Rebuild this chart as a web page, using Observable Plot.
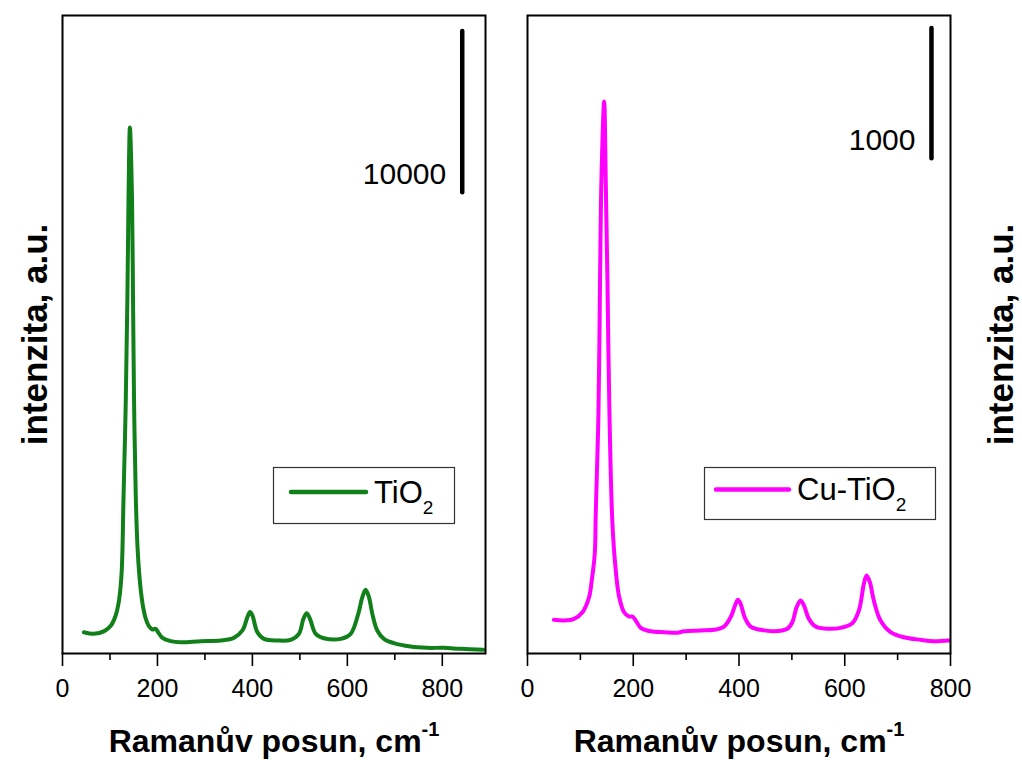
<!DOCTYPE html>
<html>
<head>
<meta charset="utf-8">
<script src="https://cdn.jsdelivr.net/npm/d3@7"></script>
<script src="https://cdn.jsdelivr.net/npm/@observablehq/plot@0.6"></script>
<style>
  body { margin: 0; background: #fff; }
  #fig { position: relative; width: 1022px; height: 760px; font-family: "Liberation Sans", Arial, sans-serif; }
  #fig > svg { position: absolute; top: 0; }
</style>
</head>
<body>
<div id="fig"></div>
<script>
// Raman spectra of TiO2 and Cu-doped TiO2 (anatase bands at ~144, 197, 399, 515, 639 cm-1)
const xTitle = "Ramanův posun, cm";
const xTitleSup = "-1";
const yTitle = "intenzita, a.u.";
const majorTicks = [0, 200, 400, 600, 800];
const minorTicks = [100, 300, 500, 700];

const tio2Label = "TiO";
const cuTio2Label = "Cu-TiO";
const labelSub = "2";

const tio2Shift = [45, 66, 88, 102, 112, 119, 124.5, 128.4, 133.3, 136.6, 139, 142, 146.5, 148.6, 150.7, 154.3, 158, 161.5, 165, 170, 176, 182, 189.5, 196.4, 201.3, 210.5, 228, 249, 291, 333, 361, 379, 389.5, 395, 400, 410.5, 424.5, 452.6, 480.6, 498, 507.4, 514.3, 521.3, 533.3, 550.7, 586, 607, 623, 631.6, 638.5, 645.5, 652.6, 663, 677, 698, 733, 768, 803, 838.5, 886];
const tio2Counts = [1320, 1220, 1390, 1740, 2360, 3290, 5000, 9500, 15700, 21900, 28100, 32650, 28100, 21900, 15700, 9800, 6600, 5000, 3900, 2850, 2100, 1700, 1490, 1530, 1320, 970, 765, 700, 765, 810, 970, 1430, 2260, 2570, 2360, 1320, 910, 810, 850, 1220, 2150, 2500, 2150, 1220, 950, 910, 1220, 2460, 3500, 3950, 3500, 2460, 1430, 910, 640, 430, 350, 350, 290, 230];

const cuShift = [50, 69, 88, 104, 116.4, 121.5, 127.2, 129.1, 134.2, 137.2, 139.8, 145, 148, 151.2, 155, 160.6, 166.9, 173.1, 182.6, 192, 198.4, 204.7, 214.1, 233, 258.2, 283.5, 296, 327.5, 352.7, 371.6, 384.2, 393.7, 398, 403.1, 410.7, 422, 441, 466, 491.4, 500.8, 509, 516.5, 522.8, 532.2, 544.9, 567, 592.1, 614.2, 626.7, 636.2, 641.3, 647.5, 655, 667.7, 686.6, 711.8, 743.3, 768.5, 796.8];
const cuCounts = [259, 253, 266, 317, 432, 561, 766, 1075, 1843, 2865, 3633, 4240, 3633, 2865, 1843, 1000, 640, 440, 317, 284, 284, 253, 197, 171, 164, 160, 171, 177, 182, 207, 279, 382, 412, 382, 279, 207, 182, 171, 190, 240, 356, 407, 369, 266, 207, 190, 197, 233, 330, 535, 599, 548, 407, 253, 164, 125, 105, 94, 100];

// intensity scale bars: position along the shift axis, start level, length in counts
const barTio2 = {x: 842, base: 28600, value: 10000};
const barCu = {x: 764, base: 3800, value: 1000};

const green = "#12801a";
const magenta = "#ff00ff";
const font = "'Liberation Sans', Arial, sans-serif";

const tio2 = tio2Shift.map((x, i) => ({x, y: tio2Counts[i]}));
const cu = cuShift.map((x, i) => ({x, y: cuCounts[i]}));

function panel({data, color, xMax, yMax, bar, width, marginLeft, marginRight, yTitleAnchor, yTitleDx}) {
  return Plot.plot({
    width, height: 760,
    marginLeft, marginRight, marginTop: 15, marginBottom: 107,
    x: {domain: [0, xMax]},
    y: {domain: [0, yMax], axis: null},
    style: {fontFamily: font, background: "white", color: "black", overflow: "visible"},
    marks: [
      Plot.axisX({ticks: majorTicks, tickSize: 13, tickPadding: 13, fontSize: 25, strokeWidth: 1.6, label: null}),
      Plot.axisX({ticks: minorTicks, tickSize: 7, tickFormat: () => "", strokeWidth: 1.6, label: null}),
      Plot.line(data, {x: "x", y: "y", stroke: color, strokeWidth: 4, curve: "catmull-rom"}),
      Plot.ruleX([bar], {x: "x", y1: "base", y2: d => d.base + d.value, strokeWidth: 4.5, strokeLinecap: "round"}),
      Plot.text([bar], {x: "x", y: "base", text: d => String(d.value), textAnchor: "end", lineAnchor: "bottom", dx: -16, dy: -9, fontSize: 30}),
      Plot.text([xTitle], {text: d => d, frameAnchor: "bottom", textAnchor: "middle", dy: 98, lineAnchor: "bottom", fontSize: 32, fontWeight: "bold"}),
      Plot.text([yTitle], {text: d => d, frameAnchor: yTitleAnchor, textAnchor: "middle", dx: yTitleDx, rotate: -90, lineAnchor: "bottom", fontSize: 35, fontWeight: "bold"}),
      Plot.frame({strokeWidth: 2})
    ]
  });
}

const left = panel({data: tio2, color: green, xMax: 891, yMax: 39600, bar: barTio2, width: 506, marginLeft: 62, marginRight: 21, yTitleAnchor: "left", yTitleDx: -16});
const right = panel({data: cu, color: magenta, xMax: 800, yMax: 4900, bar: barCu, width: 516, marginLeft: 21, marginRight: 72, yTitleAnchor: "right", yTitleDx: 62});

const fig = document.getElementById("fig");
left.style.left = "0px";
right.style.left = "506px";
fig.append(left, right);

// superscript on the shift unit
for (const svg of [left, right]) {
  d3.select(svg).selectAll("text")
    .filter(function () { return this.textContent === xTitle; })
    .append("tspan").attr("dy", -16).attr("font-size", 20).text(xTitleSup);
}

// legends
const legend = d3.select(fig).append("svg")
  .attr("width", 1022).attr("height", 760)
  .style("left", "0px").style("pointer-events", "none")
  .attr("font-family", font);

function legendBox(g, {x, y, w, h, lineX1, lineX2, lineY, textX, textY, label, color}) {
  g.append("rect").attr("x", x).attr("y", y).attr("width", w).attr("height", h)
    .attr("fill", "white").attr("stroke", "#333").attr("stroke-width", 1.2);
  g.append("line").attr("x1", lineX1).attr("x2", lineX2).attr("y1", lineY).attr("y2", lineY)
    .attr("stroke", color).attr("stroke-width", 4.5).attr("stroke-linecap", "round");
  const t = g.append("text").attr("x", textX).attr("y", textY).attr("font-size", 31).text(label);
  t.append("tspan").attr("dy", 11).attr("font-size", 19).text(labelSub);
}

legendBox(legend.append("g"), {x: 273.5, y: 467.5, w: 181, h: 56, lineX1: 291, lineX2: 366, lineY: 492, textX: 374, textY: 503, label: tio2Label, color: green});
legendBox(legend.append("g"), {x: 704.5, y: 467.5, w: 231, h: 52, lineX1: 716, lineX2: 789, lineY: 489.5, textX: 797, textY: 500, label: cuTio2Label, color: magenta});
</script>
</body>
</html>
